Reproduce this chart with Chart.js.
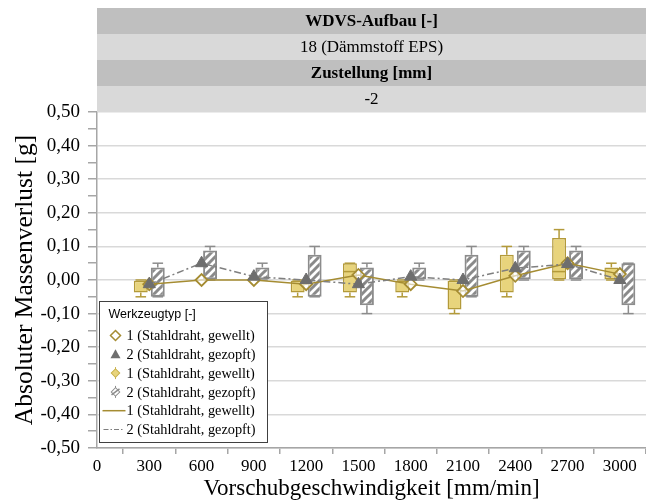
<!DOCTYPE html>
<html>
<head>
<meta charset="utf-8">
<script src="https://cdn.jsdelivr.net/npm/chart.js@4.4.1/dist/chart.umd.min.js"></script>
<style>
  body { margin: 0; background: #fff; }
  #c { display: block; }
</style>
</head>
<body>
<canvas id="c" width="646" height="503"></canvas>
<script>
// ---- data ----
const speeds = [300, 600, 900, 1200, 1500, 1800, 2100, 2400, 2700, 3000];

// Werkzeugtyp 1 (Stahldraht, gewellt)
const min1  = [-0.05, null, null, -0.05, -0.05, -0.05, -0.10, -0.05, 0.00, 0.00];
const q1_1  = [-0.0375, null, null, -0.0375, -0.0375, -0.0375, -0.0875, -0.0375, 0.00, 0.00];
const med1  = [null, null, null, null, 0.025, null, null, null, 0.025, null];
const q3_1  = [0.00, null, null, 0.00, 0.05, 0.00, 0.00, 0.075, 0.125, 0.0375];
const max1  = [0.00, null, null, 0.00, 0.05, 0.00, 0.00, 0.10, 0.15, 0.05];
const mean1 = [-0.0125, 0.00, 0.00, -0.0125, 0.015, -0.0125, -0.033, 0.0125, 0.05, 0.0175];

// Werkzeugtyp 2 (Stahldraht, gezopft)
const min2  = [-0.05, 0.00, 0.00, -0.05, -0.10, 0.00, -0.05, 0.00, 0.00, -0.10];
const q1_2  = [-0.05, 0.00, 0.00, -0.05, -0.075, 0.00, -0.05, 0.00, 0.00, -0.075];
const med2  = [null, null, null, null, null, null, null, null, null, null];
const q3_2  = [0.0375, 0.0875, 0.0375, 0.075, 0.0375, 0.0375, 0.075, 0.0875, 0.0875, 0.05];
const max2  = [0.05, 0.10, 0.05, 0.10, 0.05, 0.05, 0.10, 0.10, 0.10, 0.05];
const mean2 = [-0.0125, 0.05, 0.01, 0.00, -0.0125, 0.01, 0.00, 0.035, 0.0475, 0.00];

// header table and legend texts
const headerRows = [
  { text: 'WDVS-Aufbau [-]', bold: true },
  { text: '18 (Dämmstoff EPS)', bold: false },
  { text: 'Zustellung [mm]', bold: true },
  { text: '-2', bold: false }
];
const legendTitle = 'Werkzeugtyp [-]';
const legendLabels = [
  '1 (Stahldraht, gewellt)', '2 (Stahldraht, gezopft)',
  '1 (Stahldraht, gewellt)', '2 (Stahldraht, gezopft)',
  '1 (Stahldraht, gewellt)', '2 (Stahldraht, gezopft)'
];
const xTitle = 'Vorschubgeschwindigkeit [mm/min]';
const yTitle = 'Absoluter Massenverlust [g]';

// ---- styles ----
const SERIF = "'Liberation Serif', 'Times New Roman', serif";
const GOLD = '#a58c32';
const BOXGOLD = '#b39a3a';
const YELLOW = '#e8d47c';
const GRAY = '#8c8c8c';
const TRI = '#6e6e6e';

function hatch() {
  const p = document.createElement('canvas');
  p.width = 8; p.height = 8;
  const g = p.getContext('2d');
  g.fillStyle = '#fff'; g.fillRect(0, 0, 8, 8);
  g.strokeStyle = '#8a8a8a'; g.lineWidth = 3;
  [[-8, 8, 8, -8], [0, 8, 8, 0], [0, 16, 16, 0]].forEach(([a, b, c, d]) => {
    g.beginPath(); g.moveTo(a, b); g.lineTo(c, d); g.stroke();
  });
  return document.getElementById('c').getContext('2d').createPattern(p, 'repeat');
}
const HATCH = hatch();

const whiskers = {
  id: 'whiskers',
  afterDatasetDraw(chart, args) {
    const ds = chart.data.datasets[args.index];
    if (!ds.stats) return;
    const st = ds.stats, ys = chart.scales.y, ctx = chart.ctx;
    ctx.save();
    ctx.strokeStyle = ds.borderColor;
    ctx.lineWidth = 1.5;
    const seg = (x1, y1, x2, y2) => { ctx.beginPath(); ctx.moveTo(x1, y1); ctx.lineTo(x2, y2); ctx.stroke(); };
    args.meta.data.forEach((bar, i) => {
      if (st.q1[i] == null) return;
      const { x, width } = bar.getProps(['x', 'width'], true);
      const cap = width * 0.38;
      const pMax = ys.getPixelForValue(st.max[i]), pQ3 = ys.getPixelForValue(st.q3[i]);
      const pQ1 = ys.getPixelForValue(st.q1[i]), pMin = ys.getPixelForValue(st.min[i]);
      seg(x, pQ3, x, pMax); seg(x - cap, pMax, x + cap, pMax);
      seg(x, pQ1, x, pMin); seg(x - cap, pMin, x + cap, pMin);
      if (st.med[i] != null) {
        const pm = ys.getPixelForValue(st.med[i]);
        seg(x - width / 2, pm, x + width / 2, pm);
      }
    });
    ctx.restore();
  }
};

// header bands above the plot and legend box inside the plot
const frame = {
  id: 'frame',
  afterDraw(chart) {
    const ctx = chart.ctx, a = chart.chartArea;
    const bandH = 26;
    ctx.save();
    headerRows.forEach((r, i) => {
      const top = a.top - bandH * (headerRows.length - i);
      ctx.fillStyle = r.bold ? '#bfbfbf' : '#d9d9d9';
      ctx.fillRect(a.left, top, a.right - a.left, bandH);
      ctx.fillStyle = '#000';
      ctx.font = (r.bold ? 'bold ' : '') + '17px ' + SERIF;
      ctx.textAlign = 'center'; ctx.textBaseline = 'middle';
      ctx.fillText(r.text, (a.left + a.right) / 2, top + bandH / 2 + 1);
    });

    // legend
    const lx = a.left + 2.5, ly = a.bottom - 146.5, lw = 168, lh = 141;
    ctx.fillStyle = '#fff';
    ctx.fillRect(lx, ly, lw, lh);
    ctx.strokeStyle = '#404040'; ctx.lineWidth = 1;
    ctx.strokeRect(lx, ly, lw, lh);
    ctx.fillStyle = '#000';
    ctx.textAlign = 'left'; ctx.textBaseline = 'middle';
    ctx.font = "12.5px 'Liberation Sans', Arial, sans-serif";
    ctx.fillText(legendTitle, lx + 9, ly + 13);
    const rowY = (k) => ly + 34 + k * 18.8;
    const ix = lx + 16;
    ctx.font = '14.3px ' + SERIF;
    legendLabels.forEach((t, k) => ctx.fillText(t, lx + 27, rowY(k) + 1));

    // icons
    let y = rowY(0);
    ctx.beginPath(); ctx.moveTo(ix, y - 5); ctx.lineTo(ix + 5, y); ctx.lineTo(ix, y + 5); ctx.lineTo(ix - 5, y); ctx.closePath();
    ctx.fillStyle = '#fff'; ctx.fill(); ctx.strokeStyle = GOLD; ctx.lineWidth = 1.5; ctx.stroke();
    y = rowY(1);
    ctx.beginPath(); ctx.moveTo(ix, y - 5); ctx.lineTo(ix + 5, y + 4); ctx.lineTo(ix - 5, y + 4); ctx.closePath();
    ctx.fillStyle = TRI; ctx.fill();
    y = rowY(2);
    ctx.strokeStyle = '#c8b04a'; ctx.lineWidth = 1;
    ctx.beginPath(); ctx.moveTo(ix, y - 6); ctx.lineTo(ix, y + 6); ctx.stroke();
    ctx.save(); ctx.translate(ix, y); ctx.rotate(Math.PI / 4);
    ctx.fillStyle = YELLOW; ctx.fillRect(-3, -3, 6, 6); ctx.strokeRect(-3, -3, 6, 6); ctx.restore();
    y = rowY(3);
    ctx.strokeStyle = GRAY; ctx.lineWidth = 1;
    ctx.beginPath(); ctx.moveTo(ix, y - 6); ctx.lineTo(ix, y + 6); ctx.stroke();
    ctx.save(); ctx.translate(ix, y); ctx.rotate(Math.PI / 4);
    ctx.fillStyle = '#fff'; ctx.fillRect(-3, -3, 6, 6); ctx.strokeRect(-3, -3, 6, 6); ctx.restore();
    ctx.lineWidth = 1.5; ctx.beginPath(); ctx.moveTo(ix - 4, y + 3); ctx.lineTo(ix + 4, y - 3); ctx.stroke();
    y = rowY(4);
    ctx.strokeStyle = GOLD; ctx.lineWidth = 1.5;
    ctx.beginPath(); ctx.moveTo(lx + 3, y); ctx.lineTo(lx + 26, y); ctx.stroke();
    y = rowY(5);
    ctx.strokeStyle = '#7f7f7f'; ctx.lineWidth = 1.2; ctx.setLineDash([5, 2, 1.5, 2]);
    ctx.beginPath(); ctx.moveTo(lx + 4, y); ctx.lineTo(lx + 25, y); ctx.stroke();
    ctx.setLineDash([]);
    ctx.restore();
  }
};

Chart.defaults.font.family = SERIF;
Chart.defaults.color = '#000';

const boxData = (q1, q3) => speeds.map((s, i) => ({ x: s, y: q1[i] == null ? null : [q1[i], q3[i]] }));
const lineData = (m) => speeds.map((s, i) => ({ x: s, y: m[i] }));

new Chart(document.getElementById('c'), {
  type: 'bar',
  data: {
    datasets: [
      { type: 'bar', label: legendLabels[2], data: boxData(q1_1, q3_1),
        stats: { min: min1, q1: q1_1, med: med1, q3: q3_1, max: max1 },
        backgroundColor: YELLOW, borderColor: BOXGOLD, borderWidth: 1.5, borderSkipped: false, order: 3 },
      { type: 'bar', label: legendLabels[3], data: boxData(q1_2, q3_2),
        stats: { min: min2, q1: q1_2, med: med2, q3: q3_2, max: max2 },
        backgroundColor: HATCH, borderColor: GRAY, borderWidth: 2, borderSkipped: false, order: 3 },
      { type: 'line', label: legendLabels[0], data: lineData(mean1),
        borderColor: GOLD, borderWidth: 1.5, pointStyle: 'rectRot', pointRadius: 6,
        pointBackgroundColor: 'rgba(255,255,255,0.6)', pointBorderColor: GOLD, pointBorderWidth: 1.8, order: 2 },
      { type: 'line', label: legendLabels[1], data: lineData(mean2),
        borderColor: '#7f7f7f', borderWidth: 1.5, borderDash: [7, 3, 2, 3], pointStyle: 'triangle', pointRadius: 7,
        pointBackgroundColor: TRI, pointBorderColor: TRI, pointBorderWidth: 1, order: 1 }
    ]
  },
  options: {
    responsive: false,
    animation: false,
    layout: { autoPadding: false, padding: { top: 112, left: 0, right: 0, bottom: 0 } },
    datasets: { bar: { categoryPercentage: 0.65, barPercentage: 0.82 } },
    plugins: { legend: { display: false }, tooltip: { enabled: false } },
    scales: {
      x: {
        type: 'linear', min: 0, max: 3150, offset: false,
        ticks: { stepSize: 300, includeBounds: false, autoSkip: false, maxRotation: 0, font: { size: 17 }, padding: 2,
          callback(v) { return String(v); } },
        grid: { drawOnChartArea: false, tickLength: 6, color: '#a6a6a6', lineWidth: 1.5 },
        border: { color: '#a6a6a6', width: 1.5 },
        title: { display: true, text: xTitle, font: { size: 23 }, padding: 0 },
        afterFit(s) { s.height = 55; s.paddingRight = 0; s.paddingLeft = 0; }
      },
      y: {
        min: -0.5, max: 0.5,
        ticks: {
          stepSize: 0.05, autoSkip: false, font: { size: 19 }, padding: 8,
          callback(v) {
            const k = Math.round(v * 100);
            return (k % 10 === 0) ? (k / 100).toFixed(2).replace('.', ',') : '';
          }
        },
        grid: {
          tickLength: 9, lineWidth: 1.5,
          color(ctx) { const k = Math.round(ctx.tick.value * 100); return k % 10 === 0 ? '#d9d9d9' : 'rgba(0,0,0,0)'; },
          tickColor: '#a6a6a6'
        },
        border: { color: '#a6a6a6', width: 1.5 },
        title: { display: true, text: yTitle, font: { size: 25.5 }, padding: { top: 10, bottom: 0 } },
        afterFit(s) { s.width = 97; }
      }
    }
  },
  plugins: [whiskers, frame]
});
</script>
</body>
</html>
